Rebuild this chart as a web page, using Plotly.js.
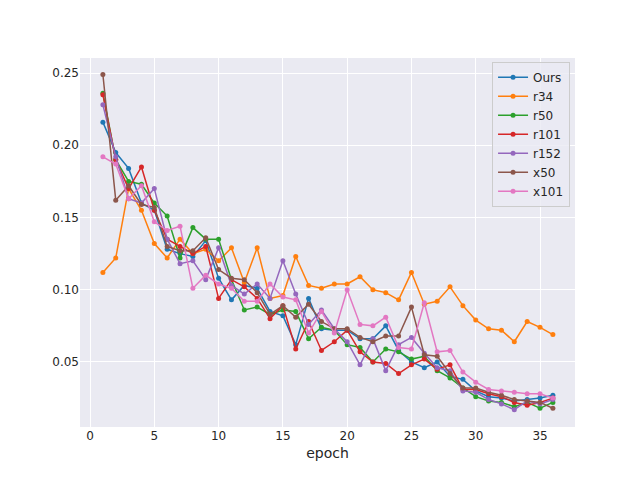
<!DOCTYPE html>
<html>
<head>
<script src="https://cdn.plot.ly/plotly-3.0.1.min.js"></script>
<style>body{margin:0}</style>
</head>
<body>
<div id="chart" style="width:640px;height:480px"></div>
<script>
let epochs = [];
for(let i = 1; i <= 36; i++) epochs.push(i);

let ours = [0.216,0.195,0.184,0.160,0.155,0.128,0.125,0.123,0.134,0.108,0.093,0.103,0.101,0.085,0.082,0.062,0.094,0.073,0.072,0.072,0.066,0.066,0.075,0.058,0.050,0.046,0.050,0.040,0.038,0.030,0.026,0.025,0.023,0.024,0.025,0.027];
let r34 = [0.112,0.122,0.170,0.155,0.132,0.122,0.135,0.125,0.128,0.120,0.129,0.105,0.129,0.094,0.096,0.123,0.103,0.101,0.104,0.104,0.109,0.100,0.098,0.093,0.112,0.090,0.092,0.102,0.089,0.079,0.073,0.072,0.064,0.078,0.074,0.069];
let r50 = [0.236,0.190,0.175,0.173,0.160,0.151,0.122,0.143,0.135,0.135,0.107,0.086,0.088,0.083,0.086,0.085,0.066,0.074,0.072,0.062,0.060,0.050,0.059,0.057,0.052,0.054,0.044,0.039,0.032,0.026,0.023,0.022,0.019,0.022,0.018,0.022];
let r101 = [0.235,0.190,0.170,0.185,0.155,0.135,0.130,0.125,0.130,0.094,0.107,0.102,0.094,0.080,0.089,0.059,0.078,0.058,0.064,0.072,0.057,0.050,0.049,0.042,0.048,0.052,0.045,0.048,0.031,0.031,0.028,0.026,0.022,0.020,0.022,0.025];
let r152 = [0.228,0.192,0.163,0.160,0.170,0.135,0.118,0.120,0.107,0.129,0.103,0.097,0.104,0.094,0.120,0.097,0.076,0.086,0.073,0.064,0.048,0.066,0.044,0.062,0.067,0.056,0.046,0.044,0.030,0.029,0.024,0.021,0.017,0.023,0.021,0.024];
let x50 = [0.249,0.162,0.172,0.159,0.157,0.130,0.127,0.127,0.136,0.114,0.108,0.107,0.098,0.083,0.089,0.081,0.090,0.078,0.073,0.073,0.067,0.064,0.068,0.068,0.088,0.055,0.054,0.042,0.032,0.032,0.029,0.027,0.024,0.023,0.022,0.018];
let x101 = [0.192,0.187,0.163,0.172,0.147,0.141,0.144,0.101,0.110,0.104,0.101,0.092,0.092,0.104,0.095,0.093,0.070,0.085,0.070,0.100,0.076,0.075,0.081,0.060,0.059,0.091,0.057,0.058,0.043,0.036,0.031,0.030,0.029,0.028,0.028,0.025];

let names = ["Ours", "r34", "r50", "r101", "r152", "x50", "x101"];
let series = [ours, r34, r50, r101, r152, x50, x101];
let colors = ["#1f77b4", "#ff7f0e", "#2ca02c", "#d62728", "#9467bd", "#8c564b", "#e377c2"];

let traces = [];
for(let i = 0; i < names.length; i++) {
    traces.push({
        x: epochs,
        y: series[i],
        name: names[i],
        type: 'scatter',
        mode: 'lines+markers',
        line: {color: colors[i], width: 1.5},
        marker: {color: colors[i], size: 5}
    });
}

let layout = {
    width: 640,
    height: 480,
    margin: {l: 80, r: 65, t: 58, b: 53},
    paper_bgcolor: 'white',
    plot_bgcolor: '#eaeaf2',
    font: {family: 'DejaVu Sans, sans-serif', size: 12, color: '#262626'},
    xaxis: {
        title: {text: 'epoch', standoff: 6},
        range: [-0.78, 37.72],
        tickvals: [0, 5, 10, 15, 20, 25, 30, 35],
        gridcolor: 'white',
        zeroline: false,
        ticks: ''
    },
    yaxis: {
        range: [0.005, 0.2604],
        tickvals: [0.05, 0.10, 0.15, 0.20, 0.25],
        tickformat: '.2f',
        gridcolor: 'white',
        zeroline: false,
        ticks: ''
    },
    legend: {
        x: 0.99, y: 0.99, xanchor: 'right', yanchor: 'top',
        bgcolor: 'rgba(234,234,242,0.8)',
        bordercolor: '#cccccc', borderwidth: 1,
        font: {size: 12}
    },
    showlegend: true
};

Plotly.newPlot('chart', traces, layout, {displayModeBar: false});
</script>
</body>
</html>
